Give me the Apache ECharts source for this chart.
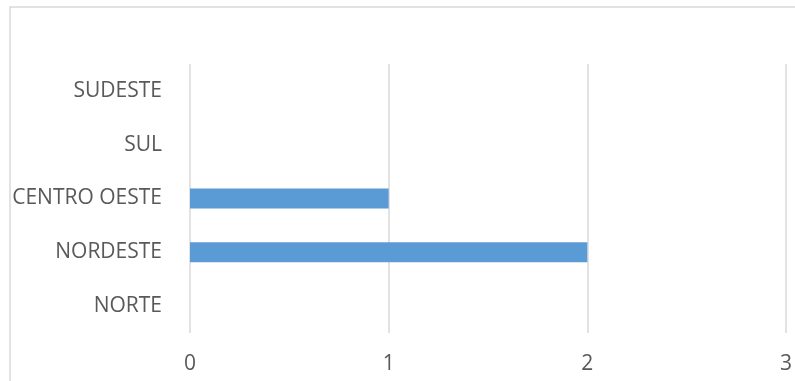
<!DOCTYPE html>
<html>
<head>
<meta charset="utf-8">
<script src="https://cdn.jsdelivr.net/npm/echarts@6/dist/echarts.min.js"></script>
<style>
html,body{margin:0;padding:0;background:#fff;}
#chart{width:795px;height:381px;}
</style>
</head>
<body>
<div id="chart"></div>
<script>
var regioes = ['NORTE', 'NORDESTE', 'CENTRO OESTE', 'SUL', 'SUDESTE'];
var valores = [0, 2, 1, 0, 0];
var eixoX = [0, 1, 2, 3];

var chart = echarts.init(document.getElementById('chart'));
var option = {
    animation: false,
    textStyle: {fontFamily: 'Open Sans'},
    graphic: [{
        type: 'rect',
        shape: {x: 10, y: 7, width: 800, height: 400},
        style: {fill: 'none', stroke: '#d9d9d9', lineWidth: 1.5},
        silent: true
    }],
    grid: {left: 190, right: 8, top: 64, bottom: 48},
    xAxis: {
        type: 'value',
        min: eixoX[0],
        max: eixoX[eixoX.length - 1],
        interval: 1,
        axisLine: {show: false},
        axisTick: {show: false},
        splitLine: {lineStyle: {color: '#d9d9d9', width: 1.5}},
        axisLabel: {color: '#595959', fontSize: 21, margin: 21}
    },
    yAxis: {
        type: 'category',
        data: regioes,
        axisLine: {show: false},
        axisTick: {show: false},
        axisLabel: {color: '#595959', fontSize: 21, margin: 28}
    },
    series: [{
        type: 'bar',
        data: valores,
        barWidth: 20,
        itemStyle: {color: '#5b9bd5'}
    }]
};
chart.setOption(option);
</script>
</body>
</html>
